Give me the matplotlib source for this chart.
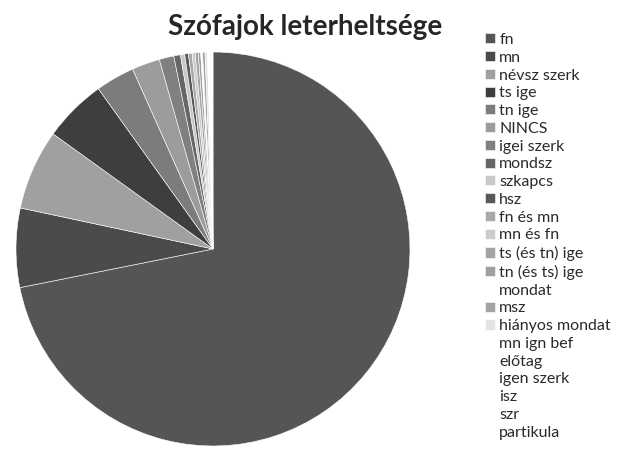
import matplotlib
matplotlib.use("Agg")
import matplotlib.pyplot as plt

# szófajok and their share (percent)
labels = ["fn", "mn", "névsz szerk", "ts ige", "tn ige", "NINCS", "igei szerk",
          "mondsz", "szkapcs", "hsz", "fn és mn", "mn és fn", "ts (és tn) ige",
          "tn (és ts) ige", "mondat", "msz", "hiányos mondat", "mn ign bef",
          "előtag", "igen szerk", "isz", "szr", "partikula"]
values = [72.0, 6.5, 6.6, 5.2, 3.2, 2.3, 1.2,
          0.55, 0.35, 0.3, 0.3, 0.25, 0.25,
          0.2, 0.15, 0.2, 0.2, 0.1,
          0.1, 0.08, 0.07, 0.05, 0.05]
colors = ["#555555", "#4b4b4b", "#a0a0a0", "#3e3e3e", "#7c7c7c", "#9c9c9c", "#808080",
          "#666666", "#c8c8c8", "#585858", "#a8a8a8", "#cccccc", "#a4a4a4",
          "#a0a0a0", "#ffffff", "#a2a2a2", "#e4e4e4", "#ffffff",
          "#ffffff", "#ffffff", "#ffffff", "#ffffff", "#ffffff"]

plt.rcParams['font.family'] = ['Lato', 'DejaVu Sans']

fig = plt.figure(figsize=(6.22, 4.51), dpi=100)
ax = fig.add_axes([16/622, 5/451, 394/622, 394/451])

wedges, _ = ax.pie(values, colors=colors, startangle=90, counterclock=False,
                   wedgeprops=dict(edgecolor="white", linewidth=0.4))
ax.set_xlim(-1, 1)
ax.set_ylim(-1, 1)

fig.text(305/622, 1 - 27/451, "Szófajok leterheltsége", ha="center", va="center",
         fontsize=20, fontweight="bold", color="#262626")

fig.legend(wedges, labels, loc="upper left", bbox_to_anchor=(485/622, 1 - 33/451),
           frameon=False, fontsize=11.5, handlelength=0.6, handleheight=0.6,
           handletextpad=0.3, labelspacing=0.235, borderpad=0, borderaxespad=0,
           labelcolor="#2a2a2a")

fig.savefig("out.png", dpi=100)
